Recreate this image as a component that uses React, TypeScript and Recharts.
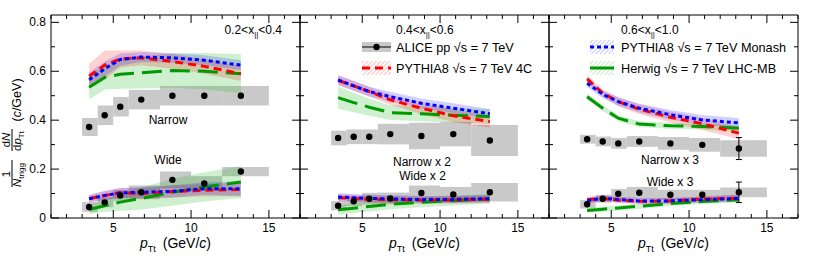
import React from 'react';
import { ComposedChart, XAxis, YAxis, Line, Area, Scatter, ReferenceArea, ReferenceLine, ErrorBar } from 'recharts';

// ---------- shared binning ----------
const ptMean = [3.45, 4.45, 5.45, 6.8, 8.8, 10.85, 13.2];
const binLow = [3, 4, 5, 6, 8, 10, 12];
const binHigh = [4, 5, 6, 8, 10, 12, 15];

const xTickValues = [1, 2, 3, 4, 5, 6, 7, 8, 9, 10, 11, 12, 13, 14, 15, 16, 17];
const xMajorTicks = [5, 10, 15];
const yTickValues = [0, 0.1, 0.2, 0.3, 0.4, 0.5, 0.6, 0.7, 0.8];
const yMajorTicks = [0, 0.2, 0.4, 0.6, 0.8];

// ---------- panel 1 : 0.2 < x|| < 0.4 ----------
const p1AliceNarrow = [0.372, 0.42, 0.455, 0.484, 0.5, 0.5, 0.5];
const p1AliceNarrowSys = [0.037, 0.04, 0.04, 0.04, 0.04, 0.04, 0.04];
const p1AliceNarrowStat = [0, 0, 0, 0, 0, 0, 0];
const p1AliceWide = [0.045, 0.064, 0.092, 0.105, 0.156, 0.141, 0.19];
const p1AliceWideSys = [0.02, 0.02, 0.022, 0.028, 0.034, 0.03, 0.019];
const p1AliceWideStat = [0, 0, 0, 0, 0, 0, 0];
const p1MonashNarrow = [0.565, 0.61, 0.648, 0.658, 0.655, 0.645, 0.625];
const p1MonashNarrowUnc = [0.03, 0.03, 0.025, 0.02, 0.02, 0.02, 0.02];
const p1Py4cNarrow = [0.58, 0.625, 0.65, 0.655, 0.64, 0.62, 0.59];
const p1Py4cNarrowUnc = [0.05, 0.06, 0.035, 0.03, 0.03, 0.03, 0.03];
const p1HerwigNarrow = [0.535, 0.575, 0.588, 0.594, 0.603, 0.6, 0.59];
const p1HerwigNarrowUnc = [0.05, 0.05, 0.06, 0.065, 0.07, 0.075, 0.08];
const p1MonashWide = [0.079, 0.092, 0.103, 0.105, 0.109, 0.12, 0.12];
const p1MonashWideUnc = [0.015, 0.018, 0.02, 0.022, 0.025, 0.025, 0.03];
const p1Py4cWide = [0.079, 0.092, 0.103, 0.1, 0.108, 0.113, 0.117];
const p1Py4cWideUnc = [0.015, 0.018, 0.02, 0.022, 0.025, 0.025, 0.028];
const p1HerwigWide = [0.035, 0.05, 0.065, 0.08, 0.105, 0.127, 0.147];
const p1HerwigWideUnc = [0.02, 0.025, 0.035, 0.045, 0.055, 0.06, 0.065];

// ---------- panel 2 : 0.4 < x|| < 0.6 (x 2) ----------
const p2AliceNarrow = [0.327, 0.332, 0.332, 0.343, 0.335, 0.343, 0.317];
const p2AliceNarrowSys = [0.03, 0.03, 0.03, 0.042, 0.054, 0.05, 0.063];
const p2AliceNarrowStat = [0, 0, 0, 0, 0, 0, 0];
const p2AliceWide = [0.05, 0.068, 0.079, 0.08, 0.102, 0.096, 0.105];
const p2AliceWideSys = [0.019, 0.02, 0.024, 0.024, 0.031, 0.031, 0.038];
const p2AliceWideStat = [0, 0, 0, 0, 0, 0, 0];
const p2MonashNarrow = [0.565, 0.54, 0.517, 0.496, 0.469, 0.449, 0.426];
const p2MonashNarrowUnc = [0.02, 0.02, 0.02, 0.02, 0.02, 0.02, 0.02];
const p2Py4cNarrow = [0.563, 0.54, 0.517, 0.483, 0.449, 0.418, 0.394];
const p2Py4cNarrowUnc = [0.02, 0.02, 0.02, 0.02, 0.025, 0.025, 0.025];
const p2HerwigNarrow = [0.492, 0.472, 0.453, 0.431, 0.426, 0.42, 0.415];
const p2HerwigNarrowUnc = [0.045, 0.04, 0.035, 0.03, 0.03, 0.03, 0.03];
const p2MonashWide = [0.086, 0.083, 0.08, 0.078, 0.075, 0.076, 0.079];
const p2MonashWideUnc = [0.015, 0.015, 0.015, 0.015, 0.015, 0.015, 0.015];
const p2Py4cWide = [0.083, 0.08, 0.077, 0.075, 0.073, 0.074, 0.077];
const p2Py4cWideUnc = [0.015, 0.015, 0.015, 0.015, 0.015, 0.015, 0.015];
const p2HerwigWide = [0.034, 0.04, 0.047, 0.056, 0.064, 0.071, 0.078];
const p2HerwigWideUnc = [0.02, 0.02, 0.02, 0.02, 0.02, 0.02, 0.02];

// ---------- panel 3 : 0.6 < x|| < 1.0 (x 3) ----------
const p3AliceNarrow = [0.322, 0.313, 0.305, 0.313, 0.305, 0.299, 0.284];
const p3AliceNarrowSys = [0.018, 0.02, 0.022, 0.022, 0.026, 0.028, 0.034];
const p3AliceNarrowStat = [0, 0, 0, 0, 0, 0, 0.045];
const p3AliceWide = [0.056, 0.079, 0.099, 0.103, 0.095, 0.095, 0.105];
const p3AliceWideSys = [0.017, 0.016, 0.02, 0.024, 0.02, 0.02, 0.02];
const p3AliceWideStat = [0, 0, 0, 0, 0, 0, 0.042];
const p3MonashNarrow = [0.551, 0.506, 0.476, 0.449, 0.422, 0.401, 0.389];
const p3MonashNarrowUnc = [0.015, 0.015, 0.018, 0.018, 0.02, 0.02, 0.02];
const p3Py4cNarrow = [0.569, 0.51, 0.476, 0.445, 0.412, 0.385, 0.347];
const p3Py4cNarrowUnc = [0.015, 0.015, 0.018, 0.02, 0.022, 0.025, 0.025];
const p3HerwigNarrow = [0.496, 0.449, 0.408, 0.384, 0.377, 0.374, 0.367];
const p3HerwigNarrowUnc = [0.012, 0.012, 0.012, 0.012, 0.012, 0.012, 0.012];
const p3MonashWide = [0.071, 0.081, 0.075, 0.07, 0.07, 0.075, 0.08];
const p3MonashWideUnc = [0.012, 0.012, 0.012, 0.012, 0.012, 0.012, 0.015];
const p3Py4cWide = [0.075, 0.08, 0.073, 0.068, 0.07, 0.077, 0.081];
const p3Py4cWideUnc = [0.012, 0.012, 0.012, 0.012, 0.012, 0.012, 0.015];
const p3HerwigWide = [0.031, 0.036, 0.041, 0.048, 0.059, 0.067, 0.075];
const p3HerwigWideUnc = [0.01, 0.01, 0.01, 0.01, 0.01, 0.01, 0.01];

// ---------- styling / geometry ----------
const FONT = '"Liberation Sans", Arial, Helvetica, sans-serif';
const RED = '#ff0000';
const BLUE = '#0000ff';
const GREEN = '#009900';
const GRAY_BOX = '#c9c9c9';
const Y_DOMAIN: [number, number] = [0, 0.83];
const X_DOMAIN: [number, number] = [1, 17];
const PLOT_W = 249;
const PLOT_H = 203;
const PX_X = (X_DOMAIN[1] - X_DOMAIN[0]) / PLOT_W;
const PX_Y = (Y_DOMAIN[1] - Y_DOMAIN[0]) / PLOT_H;
const MAJOR_LEN = 8;
const MINOR_LEN = 4;

type PanelSpec = {
  aN: number[]; aNSys: number[]; aNStat: number[];
  aW: number[]; aWSys: number[]; aWStat: number[];
  mN: number[]; mNU: number[]; pN: number[]; pNU: number[]; hN: number[]; hNU: number[];
  mW: number[]; mWU: number[]; pW: number[]; pWU: number[]; hW: number[]; hWU: number[];
};

const panels: PanelSpec[] = [
  {
    aN: p1AliceNarrow, aNSys: p1AliceNarrowSys, aNStat: p1AliceNarrowStat,
    aW: p1AliceWide, aWSys: p1AliceWideSys, aWStat: p1AliceWideStat,
    mN: p1MonashNarrow, mNU: p1MonashNarrowUnc, pN: p1Py4cNarrow, pNU: p1Py4cNarrowUnc,
    hN: p1HerwigNarrow, hNU: p1HerwigNarrowUnc,
    mW: p1MonashWide, mWU: p1MonashWideUnc, pW: p1Py4cWide, pWU: p1Py4cWideUnc,
    hW: p1HerwigWide, hWU: p1HerwigWideUnc,
  },
  {
    aN: p2AliceNarrow, aNSys: p2AliceNarrowSys, aNStat: p2AliceNarrowStat,
    aW: p2AliceWide, aWSys: p2AliceWideSys, aWStat: p2AliceWideStat,
    mN: p2MonashNarrow, mNU: p2MonashNarrowUnc, pN: p2Py4cNarrow, pNU: p2Py4cNarrowUnc,
    hN: p2HerwigNarrow, hNU: p2HerwigNarrowUnc,
    mW: p2MonashWide, mWU: p2MonashWideUnc, pW: p2Py4cWide, pWU: p2Py4cWideUnc,
    hW: p2HerwigWide, hWU: p2HerwigWideUnc,
  },
  {
    aN: p3AliceNarrow, aNSys: p3AliceNarrowSys, aNStat: p3AliceNarrowStat,
    aW: p3AliceWide, aWSys: p3AliceWideSys, aWStat: p3AliceWideStat,
    mN: p3MonashNarrow, mNU: p3MonashNarrowUnc, pN: p3Py4cNarrow, pNU: p3Py4cNarrowUnc,
    hN: p3HerwigNarrow, hNU: p3HerwigNarrowUnc,
    mW: p3MonashWide, mWU: p3MonashWideUnc, pW: p3Py4cWide, pWU: p3Py4cWideUnc,
    hW: p3HerwigWide, hWU: p3HerwigWideUnc,
  },
];

const rng = (v: number[], u: number[], i: number) => [v[i] - u[i], v[i] + u[i]];

function makeRows(p: PanelSpec) {
  return ptMean.map((x, i) => ({
    x,
    aN: p.aN[i], aNStat: p.aNStat[i],
    aW: p.aW[i], aWStat: p.aWStat[i],
    mN: p.mN[i], mNB: rng(p.mN, p.mNU, i),
    pN: p.pN[i], pNB: rng(p.pN, p.pNU, i),
    hN: p.hN[i], hNB: rng(p.hN, p.hNU, i),
    mW: p.mW[i], mWB: rng(p.mW, p.mWU, i),
    pW: p.pW[i], pWB: rng(p.pW, p.pWU, i),
    hW: p.hW[i], hWB: rng(p.hW, p.hWU, i),
  }));
}

const isMajorX = (v: number) => xMajorTicks.indexOf(v) >= 0;
const isMajorY = (v: number) => yMajorTicks.some((m) => Math.abs(m - v) < 1e-6);

const xLabelTick = (props: any) => {
  const { x, y, payload } = props;
  const v = payload.value as number;
  if (!isMajorX(v)) return <g />;
  return (
    <text x={x} y={y + 14} textAnchor="middle" fontSize={12} fontFamily={FONT} fill="#000">{String(v)}</text>
  );
};
const yLabelTick = (props: any) => {
  const { x, y, payload } = props;
  const v = payload.value as number;
  if (!isMajorY(v)) return <g />;
  return (
    <text x={x - 5} y={y + 4} textAnchor="end" fontSize={12} fontFamily={FONT} fill="#000">{v === 0 ? '0' : v.toFixed(1)}</text>
  );
};
const noTick = () => <g />;

const dotShape = (props: any) => <circle cx={props.cx} cy={props.cy} r={3.2} fill="#000" />;

function tickSegments() {
  const out: any[] = [];
  const [x0, x1] = X_DOMAIN;
  const [y0, y1] = Y_DOMAIN;
  xTickValues.forEach((v) => {
    const len = (isMajorX(v) ? MAJOR_LEN : MINOR_LEN) * PX_Y;
    out.push(<ReferenceLine key={'xb' + v} segment={[{ x: v, y: y0 }, { x: v, y: y0 + len }]} stroke="#000" strokeWidth={1} ifOverflow="visible" />);
    out.push(<ReferenceLine key={'xt' + v} segment={[{ x: v, y: y1 }, { x: v, y: y1 - len }]} stroke="#000" strokeWidth={1} ifOverflow="visible" />);
  });
  yTickValues.forEach((v) => {
    const len = (isMajorY(v) ? MAJOR_LEN : MINOR_LEN) * PX_X;
    out.push(<ReferenceLine key={'yl' + v} segment={[{ x: x0, y: v }, { x: x0 + len, y: v }]} stroke="#000" strokeWidth={1} ifOverflow="visible" />);
    out.push(<ReferenceLine key={'yr' + v} segment={[{ x: x1, y: v }, { x: x1 - len, y: v }]} stroke="#000" strokeWidth={1} ifOverflow="visible" />);
  });
  return out;
}

function Panel({ spec, left, showYLabels }: { spec: PanelSpec; left: number; showYLabels: boolean }) {
  const rows = makeRows(spec);
  return (
    <div style={{ position: 'absolute', left: left - 51, top: 0 }}>
      <ComposedChart width={316} height={257} data={rows} margin={{ top: 15, right: 16, bottom: 14, left: 0 }}>
        <XAxis dataKey="x" type="number" domain={X_DOMAIN} ticks={xTickValues} interval={0}
          height={25} tickSize={0} tickMargin={0} tickLine={false} axisLine={false}
          tick={xLabelTick} allowDataOverflow />
        <YAxis type="number" domain={Y_DOMAIN} ticks={yTickValues} interval={0} width={51}
          tickSize={0} tickMargin={0} tickLine={false} axisLine={false}
          tick={showYLabels ? yLabelTick : noTick} allowDataOverflow />

        {binLow.map((lo, i) => (
          <ReferenceArea key={'bn' + i} x1={lo} x2={binHigh[i]} y1={spec.aN[i] - spec.aNSys[i]}
            y2={spec.aN[i] + spec.aNSys[i]} fill={GRAY_BOX} fillOpacity={1} stroke="none" ifOverflow="visible" />
        ))}
        {binLow.map((lo, i) => (
          <ReferenceArea key={'bw' + i} x1={lo} x2={binHigh[i]} y1={spec.aW[i] - spec.aWSys[i]}
            y2={spec.aW[i] + spec.aWSys[i]} fill={GRAY_BOX} fillOpacity={1} stroke="none" ifOverflow="visible" />
        ))}

        <Area dataKey="hNB" type="linear" stroke="none" fill="#22bb22" fillOpacity={0.22} isAnimationActive={false} activeDot={false} />
        <Area dataKey="pNB" type="linear" stroke="none" fill={RED} fillOpacity={0.18} isAnimationActive={false} activeDot={false} />
        <Area dataKey="mNB" type="linear" stroke="none" fill={BLUE} fillOpacity={0.18} isAnimationActive={false} activeDot={false} />
        <Area dataKey="hWB" type="linear" stroke="none" fill="#22bb22" fillOpacity={0.22} isAnimationActive={false} activeDot={false} />
        <Area dataKey="pWB" type="linear" stroke="none" fill={RED} fillOpacity={0.18} isAnimationActive={false} activeDot={false} />
        <Area dataKey="mWB" type="linear" stroke="none" fill={BLUE} fillOpacity={0.18} isAnimationActive={false} activeDot={false} />

        <Line dataKey="hN" type="linear" stroke={GREEN} strokeWidth={3} strokeDasharray="20 8" dot={false} activeDot={false} isAnimationActive={false} />
        <Line dataKey="pN" type="linear" stroke={RED} strokeWidth={3} strokeDasharray="8 5" dot={false} activeDot={false} isAnimationActive={false} />
        <Line dataKey="mN" type="linear" stroke={BLUE} strokeWidth={3} strokeDasharray="4 3" dot={false} activeDot={false} isAnimationActive={false} />
        <Line dataKey="hW" type="linear" stroke={GREEN} strokeWidth={3} strokeDasharray="20 8" dot={false} activeDot={false} isAnimationActive={false} />
        <Line dataKey="pW" type="linear" stroke={RED} strokeWidth={3} strokeDasharray="8 5" dot={false} activeDot={false} isAnimationActive={false} />
        <Line dataKey="mW" type="linear" stroke={BLUE} strokeWidth={3} strokeDasharray="4 3" dot={false} activeDot={false} isAnimationActive={false} />

        <Scatter data={rows} dataKey="aN" fill="#000" shape={dotShape} isAnimationActive={false}>
          <ErrorBar dataKey="aNStat" direction="y" width={3} stroke="#000" strokeWidth={1} />
        </Scatter>
        <Scatter data={rows} dataKey="aW" fill="#000" shape={dotShape} isAnimationActive={false}>
          <ErrorBar dataKey="aWStat" direction="y" width={3} stroke="#000" strokeWidth={1} />
        </Scatter>

        <ReferenceArea x1={X_DOMAIN[0]} x2={X_DOMAIN[1]} y1={Y_DOMAIN[0]} y2={Y_DOMAIN[1]} fill="none"
          fillOpacity={0} stroke="#000" strokeWidth={1} ifOverflow="visible" />
        {tickSegments()}
      </ComposedChart>
    </div>
  );
}

function Overlay() {
  const t = { fontFamily: FONT, fill: '#000' } as const;
  const xTitle = (cx: number) => (
    <text x={cx} y={248} textAnchor="middle" fontSize={14} {...t}>
      <tspan fontStyle="italic">p</tspan>
      <tspan fontSize={9} dy={4}>Tt</tspan>
      <tspan dy={-4}>{'\u2002(GeV/'}</tspan>
      <tspan fontStyle="italic">c</tspan>
      <tspan>)</tspan>
    </text>
  );
  const title = (x: number, anchor: 'start' | 'end', lo: string, hi: string) => (
    <text x={x} y={34} textAnchor={anchor} fontSize={12} {...t}>
      {lo + '<x'}
      <tspan fontSize={8} dy={3}>||</tspan>
      <tspan dy={-3}>{'<' + hi}</tspan>
    </text>
  );
  return (
    <svg width={814} height={257} style={{ position: 'absolute', left: 0, top: 0, pointerEvents: 'none' }}>
      <defs>
        <pattern id="hatchRed" width="3" height="3" patternUnits="userSpaceOnUse" patternTransform="rotate(45)">
          <line x1="0" y1="0" x2="0" y2="3" stroke="#ff8080" strokeWidth="1" />
        </pattern>
        <pattern id="hatchBlue" width="3" height="3" patternUnits="userSpaceOnUse" patternTransform="rotate(45)">
          <line x1="0" y1="0" x2="0" y2="3" stroke="#9090ff" strokeWidth="1" />
        </pattern>
        <pattern id="hatchGreen" width="3" height="3" patternUnits="userSpaceOnUse" patternTransform="rotate(45)">
          <line x1="0" y1="0" x2="0" y2="3" stroke="#90d890" strokeWidth="1" />
        </pattern>
      </defs>

      {/* y-axis title */}
      <g transform="rotate(-90)" {...t}>
        <text x={-100} y={21} textAnchor="middle" fontSize={12.5}>
          (<tspan fontStyle="italic">c</tspan>/GeV)
        </text>
        <text x={-140} y={9.5} textAnchor="middle" fontSize={11.5}>
          d<tspan fontStyle="italic">N</tspan>
        </text>
        <line x1={-151} x2={-129} y1={12} y2={12} stroke="#000" strokeWidth={1} />
        <text x={-151} y={21} textAnchor="start" fontSize={11.5}>
          d<tspan fontStyle="italic">p</tspan>
          <tspan fontSize={8} dy={3}>Tt</tspan>
        </text>
        <text x={-174} y={9.5} textAnchor="middle" fontSize={11.5}>1</text>
        <line x1={-187} x2={-160} y1={12} y2={12} stroke="#000" strokeWidth={1} />
        <text x={-187} y={21} textAnchor="start" fontSize={11.5}>
          <tspan fontStyle="italic">N</tspan>
          <tspan fontSize={8} dy={3}>trigg</tspan>
        </text>
      </g>

      {title(282, 'end', '0.2', '0.4')}
      {title(396, 'start', '0.4', '0.6')}
      {title(621, 'start', '0.6', '1.0')}

      {/* legend panel 2 */}
      <rect x={362} y={42} width={29} height={10} fill={GRAY_BOX} />
      <line x1={362} x2={391} y1={47} y2={47} stroke="#000" strokeWidth={1} />
      <circle cx={376.5} cy={47} r={3.2} fill="#000" />
      <text x={396} y={51.5} fontSize={12.7} {...t}>ALICE pp √s = 7 TeV</text>
      <rect x={362} y={61} width={29} height={14} fill="url(#hatchRed)" />
      <line x1={362} x2={391} y1={68} y2={68} stroke={RED} strokeWidth={3} strokeDasharray="8 5" />
      <text x={396} y={72.5} fontSize={12.7} {...t}>PYTHIA8 √s = 7 TeV 4C</text>

      {/* legend panel 3 */}
      <rect x={590} y={40} width={24} height={14} fill="url(#hatchBlue)" />
      <line x1={590} x2={614} y1={47} y2={47} stroke={BLUE} strokeWidth={3} strokeDasharray="4 3" />
      <text x={621} y={51.5} fontSize={12.7} {...t}>PYTHIA8 √s = 7 TeV Monash</text>
      <rect x={590} y={61} width={24} height={14} fill="url(#hatchGreen)" />
      <line x1={590} x2={614} y1={68} y2={68} stroke={GREEN} strokeWidth={3} />
      <text x={621} y={72.5} fontSize={12.7} {...t}>Herwig √s = 7 TeV LHC-MB</text>

      {/* annotations */}
      <text x={168} y={124} textAnchor="middle" fontSize={12} {...t}>Narrow</text>
      <text x={168} y={164} textAnchor="middle" fontSize={12} {...t}>Wide</text>
      <text x={422} y={166} textAnchor="middle" fontSize={12} {...t}>Narrow x 2</text>
      <text x={422.5} y={179.5} textAnchor="middle" fontSize={12} {...t}>Wide x 2</text>
      <text x={670} y={163.5} textAnchor="middle" fontSize={12} {...t}>Narrow x 3</text>
      <text x={670} y={186} textAnchor="middle" fontSize={12} {...t}>Wide x 3</text>

      {xTitle(175.5)}
      {xTitle(424.5)}
      {xTitle(673.5)}
    </svg>
  );
}

export default function App() {
  const lefts = [51, 300, 549];
  return (
    <div style={{ position: 'absolute', left: 0, top: 0, width: 814, height: 257, background: '#fff', fontFamily: FONT }}>
      {panels.map((p, i) => (
        <Panel key={i} spec={p} left={lefts[i]} showYLabels={i === 0} />
      ))}
      <Overlay />
    </div>
  );
}
